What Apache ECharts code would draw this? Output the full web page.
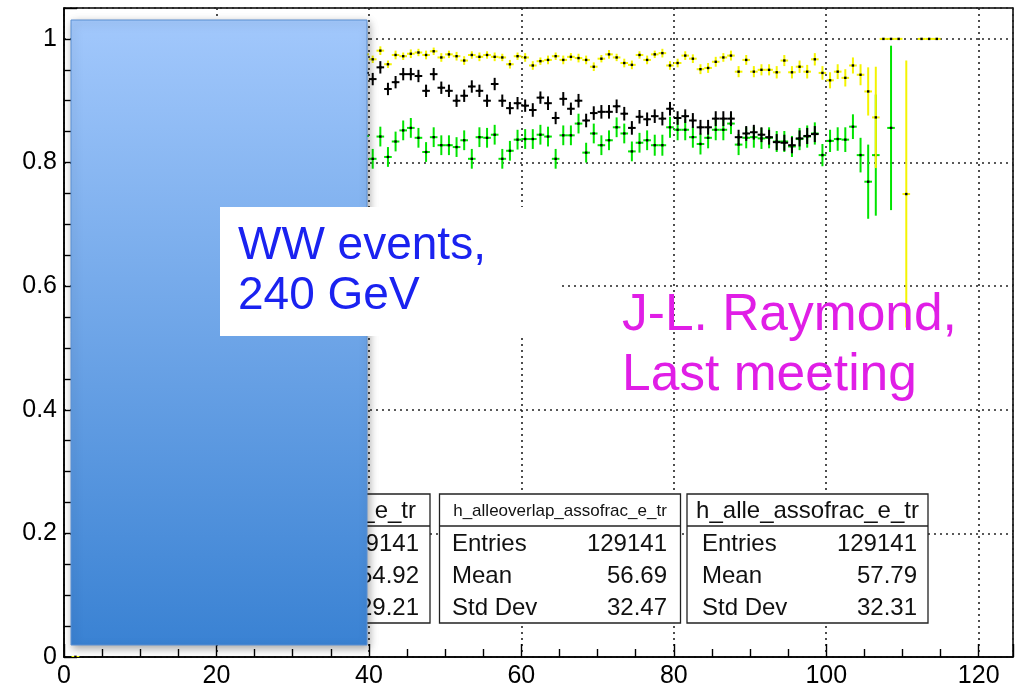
<!DOCTYPE html>
<html><head><meta charset="utf-8">
<script src="https://cdn.jsdelivr.net/npm/echarts@6/dist/echarts.min.js"></script>
<style>html,body{margin:0;padding:0;background:#fff}#c{width:1027px;height:689px}</style>
</head><body><div id="c"></div>
<script>
// ---- data (bin centres and values) ----
const bins = [1.5,
 39.5,40.5,41.5,42.5,43.5,44.5,45.5,46.5,47.5,48.5,
 49.5,50.5,51.5,52.5,53.5,54.5,55.5,56.5,57.5,58.5,
 59.5,60.5,61.5,62.5,63.5,64.5,65.5,66.5,67.5,68.5,
 69.5,70.5,71.5,72.5,73.5,74.5,75.5,76.5,77.5,78.5,
 79.5,80.5,81.5,82.5,83.5,84.5,85.5,86.5,87.5,88.5,
 89.5,90.5,91.5,92.5,93.5,94.5,95.5,96.5,97.5,98.5,
 99.5,100.5,101.5,102.5,103.5,104.5,105.5,106.5,107.5,108.5,
 109.5,110.5,111.5,112.5,113.5,114.5];

const yellowVals = [0,
 0.975,0.967,0.981,0.959,0.974,0.972,0.976,0.978,0.974,0.980,
 0.970,0.975,0.972,0.965,0.974,0.971,0.974,0.971,0.970,0.959,
 0.972,0.970,0.957,0.964,0.966,0.972,0.966,0.971,0.969,0.966,
 0.955,0.968,0.975,0.970,0.961,0.958,0.974,0.966,0.975,0.977,
 0.957,0.961,0.973,0.968,0.951,0.953,0.963,0.970,0.973,0.947,
 0.966,0.947,0.950,0.950,0.946,0.965,0.946,0.955,0.947,0.967,
 0.945,0.933,0.947,0.937,0.957,0.942,0.915,0.873,1,1,
 1,0.749,null,1,1,1];
const yellowErr = [0,
 0.007,0.006,0.007,0.006,0.007,0.006,0.007,0.006,0.007,0.006,
 0.007,0.006,0.007,0.007,0.006,0.007,0.006,0.007,0.006,0.007,
 0.006,0.007,0.007,0.006,0.007,0.006,0.007,0.006,0.007,0.007,
 0.007,0.006,0.007,0.006,0.007,0.007,0.006,0.007,0.006,0.007,
 0.007,0.007,0.007,0.007,0.008,0.008,0.008,0.007,0.008,0.009,
 0.008,0.009,0.009,0.009,0.010,0.009,0.010,0.010,0.011,0.010,
 0.011,0.013,0.012,0.014,0.013,0.017,0.039,0.082,0,0,
 0,0.216,null,0,0,0];

const blackVals = [null,
 0.945,0.935,0.954,0.919,0.930,0.943,0.943,0.940,0.916,0.943,
 0.921,0.916,0.900,0.908,0.923,0.916,0.900,0.927,0.900,0.888,
 0.896,0.892,0.885,0.905,0.896,0.872,0.903,0.887,0.900,0.868,
 0.880,0.882,0.882,0.891,0.879,0.856,0.874,0.870,0.875,0.871,
 0.887,0.872,0.875,0.868,0.857,0.857,0.871,0.871,0.871,0.841,
 0.847,0.849,0.845,0.841,0.833,0.832,0.828,0.839,0.843,0.846,
 null,null,null,null,null,null,null,null,null,null,
 null,null,null,null,null,null];
const blackErr = [null,
 0.010,0.010,0.010,0.010,0.010,0.010,0.010,0.010,0.010,0.010,
 0.010,0.010,0.010,0.010,0.010,0.010,0.010,0.010,0.010,0.010,
 0.010,0.010,0.011,0.010,0.011,0.010,0.011,0.010,0.011,0.011,
 0.011,0.011,0.011,0.011,0.011,0.011,0.011,0.011,0.011,0.011,
 0.011,0.011,0.011,0.012,0.012,0.012,0.012,0.012,0.012,0.012,
 0.012,0.012,0.012,0.012,0.013,0.013,0.013,0.013,0.013,0.013,
 null,null,null,null,null,null,null,null,null,null,
 null,null,null,null,null,null];

const greenVals = [0,
 0.843,0.806,0.842,0.809,0.834,0.852,0.856,0.840,0.817,0.841,
 0.828,0.828,0.825,0.836,0.806,0.841,0.840,0.845,0.806,0.819,
 0.837,0.838,0.838,0.845,0.842,0.806,0.844,0.844,0.863,0.816,
 0.847,0.828,0.836,0.857,0.847,0.818,0.832,0.836,0.828,0.828,
 0.857,0.853,0.853,0.841,0.830,0.840,0.853,0.853,0.863,0.829,
 0.840,0.841,0.839,0.840,0.834,0.834,0.826,0.838,0.842,0.847,
 0.812,0.835,0.838,0.837,0.858,0.812,0.769,0.812,null,0.856,
 null,null,null,null,null,null];
const greenErr = [0,
 0.016,0.016,0.016,0.016,0.016,0.016,0.016,0.016,0.016,0.016,
 0.016,0.016,0.016,0.016,0.016,0.016,0.016,0.016,0.016,0.016,
 0.016,0.016,0.016,0.016,0.016,0.016,0.016,0.016,0.016,0.016,
 0.016,0.016,0.016,0.016,0.016,0.016,0.016,0.016,0.017,0.017,
 0.017,0.017,0.017,0.017,0.017,0.017,0.017,0.017,0.017,0.017,
 0.017,0.017,0.017,0.017,0.017,0.017,0.017,0.018,0.018,0.018,
 0.018,0.018,0.019,0.020,0.020,0.028,0.060,0.098,null,0.133,
 null,null,null,null,null,null];

const xTicks = [0, 20, 40, 60, 80, 100, 120];
const yTicks = [0, 0.2, 0.4, 0.6, 0.8, 1];

const statTitles  = ['h_allebg_assofrac_e_tr', 'h_alleoverlap_assofrac_e_tr', 'h_alle_assofrac_e_tr'];
const statEntries = ['129141', '129141', '129141'];
const statMeans   = ['54.92', '56.69', '57.79'];
const statStdDevs = ['29.21', '32.47', '32.31'];

const noteLines   = ['WW events,', '240 GeV'];
const authorLines = ['J-L. Raymond,', 'Last meeting'];

// ---- helpers ----
function toItems(xs, ys, es) {
  const out = [];
  for (let i = 0; i < xs.length; i++) {
    if (ys[i] !== null && ys[i] !== undefined) out.push([xs[i], ys[i], es[i] || 0]);
  }
  return out;
}
function makeRender(color) {
  return function (params, api) {
    const x = api.value(0), y = api.value(1), e = api.value(2);
    const c = api.coord([x, y]);
    const l = api.coord([x - 0.5, y]);
    const r = api.coord([x + 0.5, y]);
    const children = [
      {type: 'line', shape: {x1: l[0], y1: c[1], x2: r[0], y2: c[1]},
       style: {stroke: color, lineWidth: 2}}
    ];
    if (e > 0) {
      const t = api.coord([x, y + e]);
      const b = api.coord([x, y - e]);
      children.push({type: 'line', shape: {x1: c[0], y1: t[1], x2: c[0], y2: b[1]},
        style: {stroke: color, lineWidth: 2}});
    }
    children.push({type: 'rect', shape: {x: c[0] - 1.2, y: c[1] - 1.2, width: 2.4, height: 2.4},
      style: {fill: '#000'}});
    return {type: 'group', children: children};
  };
}

const FONT = '"Liberation Sans", Arial, Helvetica, sans-serif';
const chart = echarts.init(document.getElementById('c'), null, {renderer: 'canvas'});

// stats boxes
const boxX = [190, 439.5, 687];
const boxW = [240, 241, 241];
const boxTop = 494, boxH = 129, boxDiv = 526;
const titleSize = [24, 17, 24];
const labelX = [204, 452, 702];
const valueX = [419, 667, 917];
const statGraphics = [];
for (let i = 0; i < 3; i++) {
  statGraphics.push({type: 'rect', z: 100,
    shape: {x: boxX[i], y: boxTop, width: boxW[i], height: boxH},
    style: {fill: '#fff', stroke: '#222', lineWidth: 1.3}});
  statGraphics.push({type: 'line', z: 100,
    shape: {x1: boxX[i], y1: boxDiv, x2: boxX[i] + boxW[i], y2: boxDiv},
    style: {stroke: '#222', lineWidth: 1.3}});
  const titleStyle = {text: statTitles[i], y: 511, fill: '#111',
    font: titleSize[i] + 'px ' + FONT, textVerticalAlign: 'middle', verticalAlign: 'middle'};
  if (i === 0) { titleStyle.x = 416; titleStyle.textAlign = 'right'; titleStyle.align = 'right'; }
  else { titleStyle.x = boxX[i] + boxW[i] / 2; titleStyle.textAlign = 'center'; titleStyle.align = 'center'; }
  statGraphics.push({type: 'text', z: 101, style: titleStyle});
  const rows = [['Entries', statEntries[i], 544], ['Mean', statMeans[i], 576.5], ['Std Dev', statStdDevs[i], 608.5]];
  rows.forEach(function (row) {
    statGraphics.push({type: 'text', z: 101, style: {text: row[0], x: labelX[i], y: row[2],
      fill: '#111', font: '24px ' + FONT, textAlign: 'left', align: 'left',
      textVerticalAlign: 'middle', verticalAlign: 'middle'}});
    statGraphics.push({type: 'text', z: 101, style: {text: row[1], x: valueX[i], y: row[2],
      fill: '#111', font: '24px ' + FONT, textAlign: 'right', align: 'right',
      textVerticalAlign: 'middle', verticalAlign: 'middle'}});
  });
}

const overlay = [
  {type: 'rect', z: 110, shape: {x: 71, y: 20, width: 296, height: 625},
   style: {fill: new echarts.graphic.LinearGradient(0, 0, 0, 1, [
       {offset: 0, color: '#a2c8fc'}, {offset: 1, color: '#3a82d3'}]),
     stroke: '#5b8fd2', lineWidth: 1,
     shadowBlur: 8, shadowColor: 'rgba(0,0,0,0.35)', shadowOffsetX: 2, shadowOffsetY: 3}},
  {type: 'rect', z: 120, shape: {x: 220, y: 207, width: 341, height: 129}, style: {fill: '#fff'}},
  {type: 'text', z: 130, style: {text: noteLines[0], x: 238, y: 246, fill: '#1a22f0',
    font: '46px ' + FONT, textVerticalAlign: 'middle', verticalAlign: 'middle'}},
  {type: 'text', z: 130, style: {text: noteLines[1], x: 238, y: 296, fill: '#1a22f0',
    font: '46px ' + FONT, textVerticalAlign: 'middle', verticalAlign: 'middle'}},
  {type: 'text', z: 130, style: {text: authorLines[0], x: 622, y: 316, fill: '#e01ee6',
    font: '51.5px ' + FONT, textVerticalAlign: 'middle', verticalAlign: 'middle'}},
  {type: 'text', z: 130, style: {text: authorLines[1], x: 622, y: 376, fill: '#e01ee6',
    font: '51.5px ' + FONT, textVerticalAlign: 'middle', verticalAlign: 'middle'}}
];

const gridLine = {show: true, lineStyle: {color: '#222', width: 1.6, type: [2, 4]}};

chart.setOption({
  animation: false,
  backgroundColor: '#fff',
  grid: {left: 64, right: 14, top: 8, bottom: 30, show: true, borderColor: '#000', borderWidth: 1.5,
    backgroundColor: 'transparent'},
  xAxis: {
    type: 'value', min: 0, max: 124.5, interval: 20,
    axisLine: {show: true, onZero: false, lineStyle: {color: '#000', width: 1.5}},
    axisTick: {show: true, inside: true, length: 13, lineStyle: {color: '#000', width: 1.4}},
    minorTick: {show: true, splitNumber: 4, length: 8, lineStyle: {color: '#000', width: 1.4}},
    splitLine: gridLine,
    axisLabel: {color: '#000', fontSize: 25, fontFamily: FONT, margin: 7,
      customValues: xTicks, formatter: function (v) { return String(v); }}
  },
  yAxis: {
    type: 'value', min: 0, max: 1.05, interval: 0.2,
    axisLine: {show: true, onZero: false, lineStyle: {color: '#000', width: 1.5}},
    axisTick: {show: true, inside: true, length: 13, lineStyle: {color: '#000', width: 1.4}},
    minorTick: {show: true, splitNumber: 4, length: 8, lineStyle: {color: '#000', width: 1.4}},
    splitLine: gridLine,
    axisLabel: {color: '#000', fontSize: 25, fontFamily: FONT, margin: 7,
      formatter: function (v) {
        const m = yTicks.find(function (t) { return Math.abs(t - v) < 1e-6; });
        return m === undefined ? '' : String(m);
      }}
  },
  series: [
    {type: 'custom', name: 'green', renderItem: makeRender('#00e400'),
     encode: {x: 0, y: 1}, data: toItems(bins, greenVals, greenErr), z: 3, clip: true},
    {type: 'custom', name: 'black', renderItem: makeRender('#000000'),
     encode: {x: 0, y: 1}, data: toItems(bins, blackVals, blackErr), z: 4, clip: true},
    {type: 'custom', name: 'yellow', renderItem: makeRender('#f4f400'),
     encode: {x: 0, y: 1}, data: toItems(bins, yellowVals, yellowErr), z: 5, clip: true}
  ],
  graphic: {elements: statGraphics.concat(overlay)}
});
</script>
</body></html>
